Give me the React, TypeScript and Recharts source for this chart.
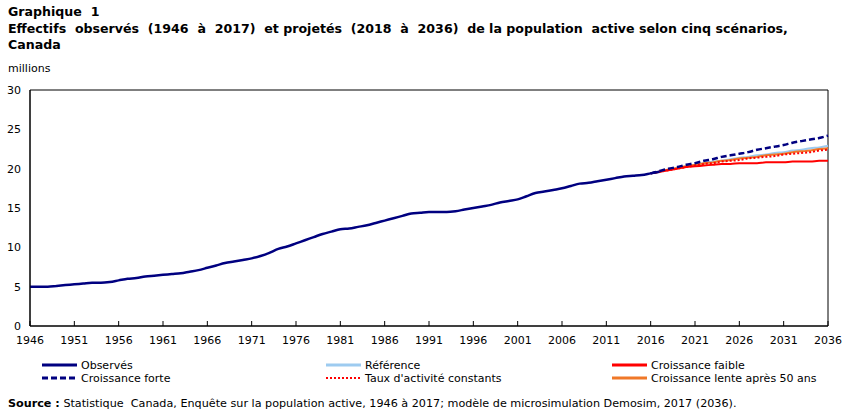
import React from 'react';
import { LineChart, Line, XAxis, YAxis, ReferenceArea } from 'recharts';

// Population active observée, en millions (1946 à 2017)
const observedYears = Array.from({ length: 72 }, (_, i) => 1946 + i);
const observed = [
  5.0, 5.0, 5.0, 5.1, 5.2, 5.3, 5.4, 5.5, 5.5, 5.6,
  5.8, 6.0, 6.1, 6.3, 6.4, 6.5, 6.6, 6.7, 6.9, 7.1,
  7.4, 7.7, 8.0, 8.2, 8.4, 8.6, 8.9, 9.3, 9.8, 10.1,
  10.5, 10.9, 11.3, 11.7, 12.0, 12.3, 12.4, 12.6, 12.8, 13.1,
  13.4, 13.7, 14.0, 14.3, 14.4, 14.5, 14.5, 14.5, 14.6, 14.8,
  15.0, 15.2, 15.4, 15.7, 15.9, 16.1, 16.5, 16.9, 17.1, 17.3,
  17.5, 17.8, 18.1, 18.2, 18.4, 18.6, 18.8, 19.0, 19.1, 19.2,
  19.4, 19.6,
];

// Projections selon les cinq scénarios (2016 à 2036)
const projectionYears = Array.from({ length: 21 }, (_, i) => 2016 + i);
const reference = [19.4, 19.6, 19.9, 20.1, 20.3, 20.5, 20.7, 20.9, 21.0, 21.2, 21.4, 21.5, 21.7, 21.8, 22.0, 22.1, 22.3, 22.4, 22.6, 22.7, 22.9];
const faible = [19.4, 19.6, 19.8, 20.0, 20.2, 20.3, 20.4, 20.5, 20.6, 20.6, 20.7, 20.7, 20.7, 20.8, 20.8, 20.8, 20.9, 20.9, 20.9, 21.0, 21.0];
const forte = [19.4, 19.7, 20.0, 20.2, 20.5, 20.7, 21.0, 21.2, 21.5, 21.7, 21.9, 22.1, 22.4, 22.6, 22.8, 23.0, 23.3, 23.5, 23.7, 23.9, 24.2];
const tauxConstants = [19.4, 19.6, 19.8, 20.0, 20.2, 20.4, 20.6, 20.7, 20.9, 21.0, 21.1, 21.3, 21.4, 21.5, 21.6, 21.8, 21.9, 22.0, 22.1, 22.3, 22.4];
const lente50 = [19.4, 19.6, 19.9, 20.1, 20.3, 20.5, 20.7, 20.8, 21.0, 21.1, 21.3, 21.4, 21.5, 21.7, 21.8, 21.9, 22.1, 22.2, 22.3, 22.5, 22.6];

const xTicks = Array.from({ length: 19 }, (_, i) => 1946 + i * 5);
const yTicks = [0, 5, 10, 15, 20, 25, 30];

const FONT = '"DejaVu Sans", Verdana, sans-serif';

const series = [
  { key: 'observes', name: 'Observés', color: '#000080', dash: undefined as string | undefined },
  { key: 'reference', name: 'Référence', color: '#9DCBF0', dash: undefined },
  { key: 'faible', name: 'Croissance faible', color: '#FF0000', dash: undefined },
  { key: 'forte', name: 'Croissance forte', color: '#000080', dash: '6 3' },
  { key: 'taux', name: "Taux d'activité constants", color: '#FF0000', dash: '2 2' },
  { key: 'lente', name: 'Croissance lente après 50 ans', color: '#F07828', dash: undefined },
];

// une rangée par année, 1946 à 2036
const rows: Record<string, number>[] = Array.from({ length: 91 }, (_, i) => ({ year: 1946 + i }));
observedYears.forEach((y, i) => { rows[y - 1946].observes = observed[i]; });
projectionYears.forEach((y, i) => {
  const r = rows[y - 1946];
  r.reference = reference[i];
  r.faible = faible[i];
  r.forte = forte[i];
  r.taux = tauxConstants[i];
  r.lente = lente50[i];
});

// graduation vers l'intérieur + étiquette de l'année
const YearTick = (props: any) => {
  const { x, y, payload } = props;
  return (
    <g>
      <line x1={x} y1={y} x2={x} y2={y - 5} stroke="#000" strokeWidth={1} />
      <text x={x} y={y + 18} textAnchor="middle" fontSize={11} fontFamily={FONT} fill="#000">
        {payload.value}
      </text>
    </g>
  );
};

const legendCols = [42, 326, 612];

export default function App() {
  return (
    <div style={{ position: 'absolute', left: 0, top: 0, width: 851, height: 416, background: '#fff', fontFamily: FONT, color: '#000' }}>
      <div style={{ position: 'absolute', left: 8, top: 4, fontSize: 12.6, fontWeight: 'bold', lineHeight: '16.5px', whiteSpace: 'pre' }}>
        <div>Graphique  1</div>
        <div>Effectifs  observés  (1946  à  2017)  et projetés  (2018  à  2036)  de la population  active selon cinq scénarios,</div>
        <div>Canada</div>
      </div>
      <div style={{ position: 'absolute', left: 8, top: 62, fontSize: 11 }}>millions</div>

      <div style={{ position: 'absolute', left: 0, top: 0 }}>
        <LineChart width={851} height={350} data={rows} margin={{ top: 90, right: 23, left: 0, bottom: 0 }}>
          <XAxis
            dataKey="year"
            type="number"
            domain={[1946, 2036]}
            ticks={xTicks}
            interval={0}
            height={24}
            tickSize={0}
            tickMargin={0}
            tickLine={false}
            axisLine={{ stroke: '#000' }}
            tick={<YearTick />}
          />
          <YAxis
            type="number"
            domain={[0, 30]}
            ticks={yTicks}
            width={30}
            tickSize={0}
            tickMargin={9}
            tickLine={false}
            axisLine={{ stroke: '#000' }}
            tick={{ fontSize: 11, fontFamily: FONT, fill: '#000' }}
          />
          <ReferenceArea x1={1946} x2={2036} y1={0} y2={30} fill="none" stroke="#000" strokeWidth={1} />
          <Line dataKey="reference" stroke="#9DCBF0" strokeWidth={2} dot={false} type="monotone" isAnimationActive={false} connectNulls />
          <Line dataKey="lente" stroke="#F07828" strokeWidth={2} dot={false} type="monotone" isAnimationActive={false} connectNulls />
          <Line dataKey="taux" stroke="#FF0000" strokeWidth={2} strokeDasharray="2 2" dot={false} type="monotone" isAnimationActive={false} connectNulls />
          <Line dataKey="faible" stroke="#FF0000" strokeWidth={2} dot={false} type="monotone" isAnimationActive={false} connectNulls />
          <Line dataKey="forte" stroke="#000080" strokeWidth={2.5} strokeDasharray="6 3" dot={false} type="monotone" isAnimationActive={false} connectNulls />
          <Line dataKey="observes" stroke="#000080" strokeWidth={2.5} dot={false} type="monotone" isAnimationActive={false} connectNulls />
        </LineChart>
      </div>

      {/* légende sur deux rangées, trois colonnes */}
      {series.map((s, i) => {
        const col = i % 3;
        const row = Math.floor(i / 3);
        return (
          <div key={s.key} style={{ position: 'absolute', left: legendCols[col], top: 358 + row * 13, height: 14, display: 'flex', alignItems: 'center', fontSize: 11, whiteSpace: 'nowrap' }}>
            <svg width={36} height={14} style={{ display: 'block' }}>
              <line x1={0} y1={7} x2={35} y2={7} stroke={s.color} strokeWidth={s.dash === '2 2' ? 2 : 3} strokeDasharray={s.dash} />
            </svg>
            <span style={{ marginLeft: 3 }}>{s.name}</span>
          </div>
        );
      })}

      <div style={{ position: 'absolute', left: 8, top: 397, fontSize: 11.2, whiteSpace: 'pre' }}>
        <b>Source :</b> Statistique  Canada, Enquête sur la population active, 1946 à 2017; modèle de microsimulation Demosim, 2017 (2036).
      </div>
    </div>
  );
}
